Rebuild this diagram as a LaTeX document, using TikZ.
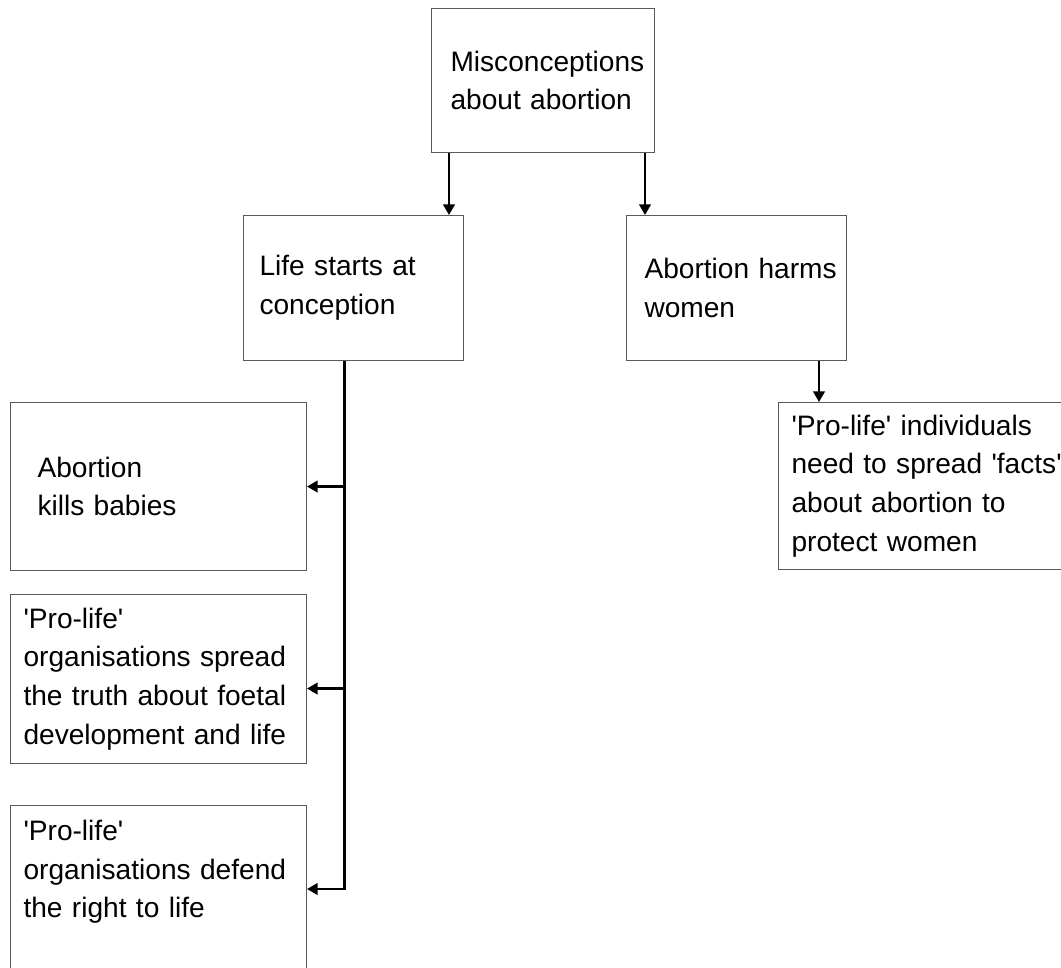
\documentclass[tikz,border=0pt]{standalone}
\usepackage{fontspec}
\setmainfont{Liberation Sans}
\usetikzlibrary{positioning,arrows.meta}
\newcommand{\sq}{\textquotesingle}

\begin{document}
\begin{tikzpicture}[
  x=0.02cm, y=-0.02cm,
  box/.style={draw=black!65, line width=0.6pt, anchor=north west, align=left,
    inner ysep=0pt, font=\fontsize{16}{22}\selectfont},
  arr/.style={draw=black, line width=1.4pt, -{Triangle[width=6.5pt,length=6pt]}}]
  \useasboundingbox (0,0) rectangle (1061,967);
  \node (mis) [box, text width=3.7cm, inner xsep=0.38cm, minimum height=2.88cm] at (431,8)
    {Misconceptions\\about abortion};
  \node (life) [box, text width=3.76cm, inner xsep=0.32cm, minimum height=2.9cm] at (243,215)
    {Life starts at\\conception};
  \node (harms) [box, text width=3.68cm, inner xsep=0.36cm, minimum height=2.9cm,
    right=3.24cm of life] {Abortion~harms\\women};
  \node (kills) [box, text width=4.84cm, inner xsep=0.54cm, minimum height=3.36cm] at (10,402)
    {Abortion\\kills babies};
  \node (spread) [box, text width=5.4cm, inner xsep=0.26cm, minimum height=3.38cm,
    below=0.46cm of kills]
    {\sq Pro-life\sq\\organisations spread\\the truth about foetal\\development and life};
  \node (defend) [box, text width=5.4cm, inner xsep=0.26cm, inner ysep=8.2pt, text depth=4cm,
    below=0.82cm of spread]
    {\sq Pro-life\sq\\organisations defend\\the right to life};
  \node (facts) [box, text width=5.72cm, inner xsep=0.26cm, minimum height=3.34cm] at (778,402)
    {\sq Pro-life\sq{} individuals\\need to spread \sq facts\sq\\about abortion to\\protect women};

  \coordinate (misL) at ([xshift=0.36cm]mis.south west);
  \coordinate (misR) at ([xshift=-0.2cm]mis.south east);
  \coordinate (harmsOut) at ([xshift=-0.56cm]harms.south east);
  \coordinate (trunk) at ([xshift=-0.18cm]life.south);
  \coordinate (spreadIn) at ([yshift=-0.19cm]spread.east);
  \coordinate (defendIn) at ([yshift=-1.68cm]defend.north east);

  \draw[arr] (misL) -- (misL |- life.north);
  \draw[arr] (misR) -- (misR |- harms.north);
  \draw[arr] (harmsOut) -- (harmsOut |- facts.north);
  \draw[arr] (trunk) |- (defendIn);
  \draw[arr] (trunk |- kills.east) -- (kills.east);
  \draw[arr] (trunk |- spreadIn) -- (spreadIn);
\end{tikzpicture}
\end{document}
